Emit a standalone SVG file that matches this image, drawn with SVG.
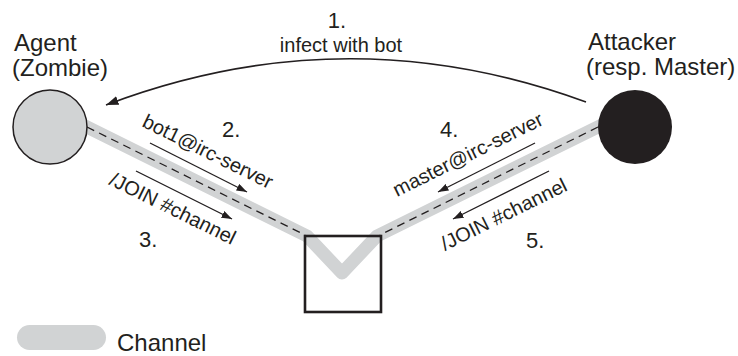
<svg xmlns="http://www.w3.org/2000/svg" width="738" height="356" viewBox="0 0 738 356">
  <style>
    text { font-family: "Liberation Sans", Arial, sans-serif; fill: #231f20; }
    .lbl { font-size: 24px; }
    .num { font-size: 22px; }
    .msg { font-size: 20px; }
    .channel { fill: none; stroke: #d1d3d4; stroke-width: 13; stroke-linecap: round; stroke-linejoin: round; }
    .dash { fill: none; stroke: #231f20; stroke-width: 1.3; stroke-dasharray: 8 5.5; }
    .arrow { fill: none; stroke: #231f20; stroke-width: 1.3; marker-end: url(#head); }
    .curve { fill: none; stroke: #231f20; stroke-width: 1.6; marker-end: url(#bighead); }
  </style>
  <defs>
    <marker id="head" markerUnits="userSpaceOnUse" markerWidth="11" markerHeight="8" refX="10.5" refY="3.75" orient="auto">
      <path d="M0,0 L10.5,3.75 L0,7.5 Z" fill="#231f20"/>
    </marker>
    <marker id="bighead" markerUnits="userSpaceOnUse" markerWidth="13" markerHeight="10" refX="12.5" refY="4.5" orient="auto">
      <path d="M0,0 L12.5,4.5 L0,9 Z" fill="#231f20"/>
    </marker>
  </defs>

  <rect width="738" height="356" fill="#ffffff"/>

  <!-- IRC channel running through the server -->
  <g id="channel">
    <path class="channel" d="M60,113.6 L307,236 L342,273 L377,236 L625,113.6"/>
  </g>

  <g id="connectors">
    <!-- dashed IRC links -->
    <path class="dash" d="M87,127 L305,235"/>
    <path class="dash" d="M598,127 L380,235"/>
    <!-- 1. infect with bot -->
    <path class="curve" d="M586,102 Q346,14 106,105"/>
    <!-- 2. / 3. agent side -->
    <path class="arrow" d="M150,143 L247,192"/>
    <path class="arrow" d="M136,171 L232,219"/>
    <!-- 4. / 5. attacker side -->
    <path class="arrow" d="M535,143 L438,192"/>
    <path class="arrow" d="M549,171 L453,219"/>
  </g>

  <g id="agent">
    <circle cx="50" cy="127" r="37" fill="#d1d3d4" stroke="#231f20" stroke-width="1.5"/>
    <text class="lbl" x="14" y="51">Agent</text>
    <text class="lbl" x="12" y="76">(Zombie)</text>
  </g>

  <g id="attacker">
    <circle cx="635" cy="127" r="37" fill="#231f20"/>
    <text class="lbl" x="588" y="50">Attacker</text>
    <text class="lbl" x="586" y="75">(resp. Master)</text>
  </g>

  <g id="irc-server">
    <rect x="305" y="236" width="76" height="76" fill="none" stroke="#231f20" stroke-width="2.6"/>
  </g>

  <g id="labels">
    <text class="num" x="337" y="28" text-anchor="middle">1.</text>
    <text class="msg" x="341" y="52" text-anchor="middle">infect with bot</text>

    <text class="num" x="222" y="137">2.</text>
    <text class="msg" transform="translate(141,126) rotate(26.3)">bot1@irc-server</text>
    <text class="msg" transform="translate(108,184) rotate(26.3)">/JOIN #channel</text>
    <text class="num" x="139" y="247">3.</text>

    <text class="num" x="440" y="137">4.</text>
    <text class="msg" transform="translate(397,197) rotate(-26.3)">master@irc-server</text>
    <text class="msg" transform="translate(445,251) rotate(-26.3)">/JOIN #channel</text>
    <text class="num" x="526" y="248">5.</text>
  </g>

  <g id="legend">
    <rect x="17" y="325" width="89" height="25" rx="12.5" fill="#d1d3d4"/>
    <text class="lbl" x="117" y="351">Channel</text>
  </g>
</svg>
